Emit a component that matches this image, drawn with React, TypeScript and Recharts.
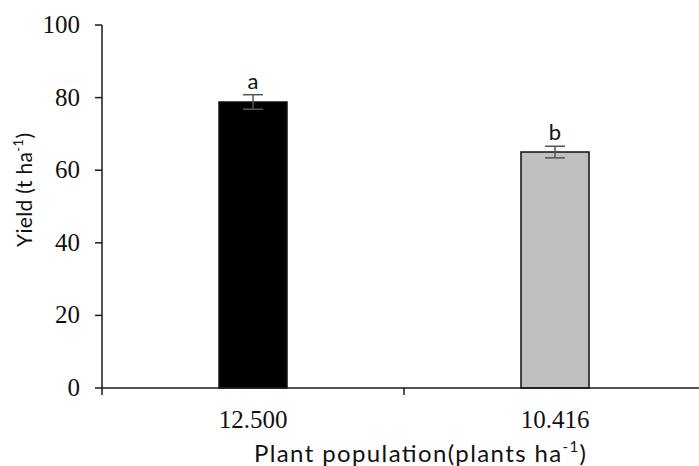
import React from "react";
import {
  ComposedChart,
  Bar,
  Line,
  XAxis,
  YAxis,
  ErrorBar,
  LabelList,
  Cell,
} from "recharts";

const categories = ["12.500", "10.416"];
const yields = [78.8, 65.0];
const errors = [2.0, 1.6];
const letters = ["a", "b"];
const barColors = ["#000000", "#c0c0c0"];
const yTicks = [0, 20, 40, 60, 80, 100];

const data = categories.map((c, i) => ({
  name: c,
  value: yields[i],
  err: errors[i],
  top: yields[i] + errors[i],
  letter: letters[i],
}));

const AXIS = "#1a1a1a";
const SERIF = "'Liberation Serif', 'Times New Roman', serif";
const SANS = "Lato";

const XTick = (props: any) => {
  const { x, y, payload, index } = props;
  const off = payload && typeof payload.offset === "number" ? payload.offset : 0;
  return (
    <g>
      <line x1={x - off} x2={x - off} y1={y} y2={y + 7} stroke={AXIS} strokeWidth={1.5} />
      {index === categories.length - 1 ? (
        <line x1={x + off} x2={x + off} y1={y} y2={y + 7} stroke={AXIS} strokeWidth={1.5} />
      ) : null}
      <text
        x={x}
        y={y + 40}
        textAnchor="middle"
        style={{ fontFamily: SERIF, fontSize: 25 }}
        fill="#111"
      >
        {payload.value}
      </text>
    </g>
  );
};

const YTick = (props: any) => {
  const { x, y, payload } = props;
  return (
    <text
      x={x}
      y={y + 8}
      textAnchor="end"
      style={{ fontFamily: SERIF, fontSize: 25 }}
      fill="#111"
    >
      {payload.value}
    </text>
  );
};

export default function App() {
  return (
    <div
      style={{
        position: "absolute",
        left: 0,
        top: 0,
        width: 699,
        height: 466,
        overflow: "hidden",
        background: "#fff",
      }}
    >
      <ComposedChart
        width={720}
        height={466}
        data={data}
        margin={{ top: 25, right: 14, bottom: 0, left: 0 }}
      >
        <XAxis
          dataKey="name"
          height={78}
          axisLine={{ stroke: AXIS, strokeWidth: 1.5 }}
          tickLine={false}
          tickSize={0}
          tickMargin={0}
          tick={<XTick />}
          interval={0}
        />
        <YAxis
          width={102}
          domain={[0, 100]}
          ticks={yTicks}
          interval={0}
          axisLine={{ stroke: AXIS, strokeWidth: 1.5 }}
          tickLine={{ stroke: AXIS, strokeWidth: 1.5 }}
          tickSize={7}
          tickMargin={15}
          tick={<YTick />}
        />
        <Bar dataKey="value" barSize={68} stroke="#111" strokeWidth={1.5} isAnimationActive={false}>
          {data.map((d, i) => (
            <Cell key={d.name} fill={barColors[i]} />
          ))}
          <ErrorBar dataKey="err" width={10} stroke="#555" strokeWidth={1.5} direction="y" />
        </Bar>
        <Line
          dataKey="top"
          stroke="none"
          dot={false}
          activeDot={false}
          isAnimationActive={false}
        >
          <LabelList
            dataKey="letter"
            position="top"
            offset={6}
            style={{ fontFamily: SANS, fontSize: 22, fill: "#111" }}
          />
        </Line>
      </ComposedChart>
      <svg
        width={699}
        height={466}
        style={{ position: "absolute", left: 0, top: 0, pointerEvents: "none" }}
      >
        <text
          x={420}
          y={462}
          textAnchor="middle"
          style={{ fontFamily: SANS, fontSize: 24 }}
          fill="#111"
          textLength={332}
          lengthAdjust="spacing"
        >
          Plant population(plants ha
          <tspan style={{ fontSize: 15 }} dy={-10}>-1</tspan>
          <tspan dy={10}>)</tspan>
        </text>
        <text
          x={32}
          y={190}
          textAnchor="middle"
          style={{ fontFamily: SANS, fontSize: 21 }}
          fill="#111"
          transform="rotate(-90 32 190)"
          textLength={114}
          lengthAdjust="spacing"
        >
          Yield (t ha
          <tspan style={{ fontSize: 13 }} dy={-9}>-1</tspan>
          <tspan dy={9}>)</tspan>
        </text>
      </svg>
    </div>
  );
}
